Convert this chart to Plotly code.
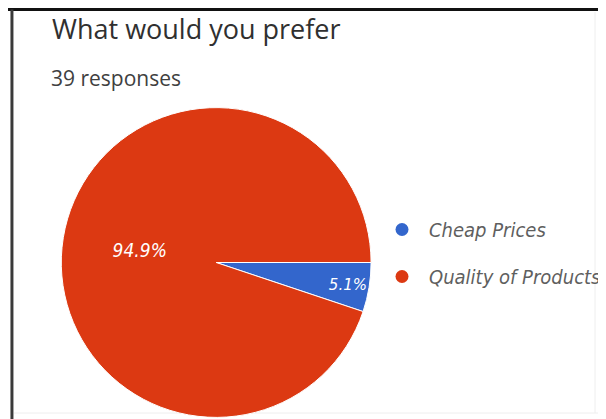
import plotly.graph_objects as go

# ---- data ----
categories = ["Cheap Prices", "Quality of Products"]
values = [2, 37]          # 39 responses -> 5.1% / 94.9%
colors = ["#3366CC", "#DC3912"]
title_text = "What would you prefer"
subtitle_text = "39 responses"

# page body has an 8px margin: build the figure in the visible area
OFF = 8
W, H = 606 - OFF, 419 - OFF
HAND = "Liberation Sans Narrow, DejaVu Sans Condensed, sans-serif"


def px(x):
    return (x - OFF) / W


def py(y):
    return 1 - (y - OFF) / H


fig = go.Figure()

# pie centred at (219, 263), radius ~157 px (reference pixels)
cx, cy, r = 219, 263, 157
fig.add_trace(go.Pie(
    labels=categories, values=values, sort=False,
    direction="clockwise", rotation=90,
    marker=dict(colors=colors, line=dict(color="white", width=1)),
    texttemplate="%{percent:.1%}",
    textposition="inside", insidetextorientation="horizontal",
    textfont=dict(family=HAND, size=19, color="white", style="italic"),
    showlegend=False, hoverinfo="label+percent",
    domain=dict(x=[px(cx - r), px(cx + r)], y=[max(0, py(cy + r)), py(cy - r)]),
))

# legend entries (library legend, one group per category for spacing)
for cat, col in zip(categories, colors):
    fig.add_trace(go.Scatter(
        x=[None], y=[None], mode="markers", name=cat, legendgroup=cat,
        marker=dict(color=col, size=13, symbol="circle"),
    ))

fig.update_layout(
    width=W, height=H,
    margin=dict(l=0, r=0, t=0, b=0),
    paper_bgcolor="white", plot_bgcolor="white",
    xaxis=dict(visible=False), yaxis=dict(visible=False),
    legend=dict(
        x=px(380), y=py(210), xanchor="left", yanchor="top",
        font=dict(family=HAND, size=20, color="#5f5f5f", style="italic"),
        tracegroupgap=18, itemwidth=44, bgcolor="rgba(0,0,0,0)",
    ),
    annotations=[
        dict(text=title_text, x=px(51), y=py(28), xref="paper", yref="paper",
             xanchor="left", yanchor="middle", showarrow=False,
             font=dict(family="Open Sans, sans-serif", size=27, color="#303030")),
        dict(text=subtitle_text, x=px(50), y=py(78), xref="paper", yref="paper",
             xanchor="left", yanchor="middle", showarrow=False,
             font=dict(family="Open Sans, sans-serif", size=21, color="#404040")),
    ],
    shapes=[
        # frame: dark top and left edges, faint card edges
        dict(type="line", xref="paper", yref="paper", x0=0, x1=1, y0=py(9.5), y1=py(9.5),
             line=dict(color="#111111", width=3)),
        dict(type="line", xref="paper", yref="paper", x0=px(12), x1=px(12), y0=0, y1=py(9.5),
             line=dict(color="#3a3a3a", width=3)),
        dict(type="line", xref="paper", yref="paper", x0=px(603), x1=px(603), y0=py(413), y1=py(12),
             line=dict(color="#eeeeee", width=1), layer="below"),
        dict(type="line", xref="paper", yref="paper", x0=px(14), x1=1, y0=py(413), y1=py(413),
             line=dict(color="#eeeeee", width=1), layer="below"),
    ],
)

fig.write_html("out.html")
